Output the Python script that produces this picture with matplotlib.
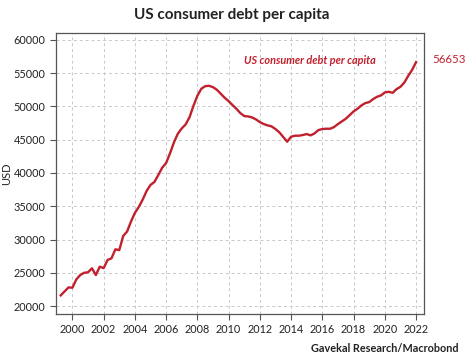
import numpy as np
import matplotlib.pyplot as plt

# quarterly US consumer debt per capita, USD
debt = [
    21600, 22200, 22800,
    22750, 24000, 24660, 25000,
    25070, 25670, 24660, 25910,
    25700, 26920, 27170, 28530,
    28400, 30530, 31200, 32700,
    34000, 34900, 36000, 37300,
    38200, 38650, 39700, 40800,
    41500, 42970, 44600, 45900,
    46700, 47300, 48400, 50100,
    51600, 52650, 53050, 53100,
    52900, 52500, 51900, 51300,
    50800, 50200, 49650, 49000,
    48550, 48500, 48350, 48050,
    47650, 47350, 47150, 47000,
    46600, 46100, 45400, 44700,
    45450, 45600, 45600, 45700,
    45850, 45650, 45950, 46450,
    46600, 46650, 46650, 46900,
    47350, 47750, 48150, 48700,
    49250, 49650, 50150, 50500,
    50650, 51100, 51450, 51650,
    52100, 52200, 52050, 52600,
    52950, 53600, 54600, 55500,
    56653,
]
years = 1999.25 + 0.25 * np.arange(len(debt))
xticks = list(range(2000, 2023, 2))
yticks = list(range(20000, 60001, 5000))

red = '#C1202D'
plt.rcParams['font.family'] = ['Lato', 'DejaVu Sans']

fig = plt.figure(figsize=(4.68, 3.59), dpi=100)
ax = fig.add_axes([0.1197, 0.1253, 0.786, 0.783])

ax.plot(years, debt, color=red, lw=1.7, solid_joinstyle='round')

ax.set_xlim(1998.95, 2022.5)
ax.set_ylim(18800, 61050)
ax.set_xticks(xticks)
ax.set_yticks(yticks)
ax.tick_params(labelsize=7.8, color='#555555', length=4, labelcolor='#222222')
ax.grid(True, ls=(0, (3, 3)), color='#c8c8c8', lw=0.7)
for s in ax.spines.values():
    s.set_color('#555555')
    s.set_linewidth(0.9)
ax.set_ylabel('USD', fontsize=8, color='#222222')
ax.yaxis.set_label_coords(-0.118, 0.5)

fig.text(0.496, 0.958, 'US consumer debt per capita', ha='center', va='center',
         fontsize=11, fontweight='bold', color='#222222')
ax.text(2019.44, 56950, 'US consumer debt per capita', ha='right', va='center',
        fontsize=7.8, fontstyle='italic', fontweight='bold', color=red)
fig.text(0.923, 0.833, '56653', ha='left', va='center', fontsize=8.3, color=red)
fig.text(0.979, 0.03, 'Gavekal Research/Macrobond', ha='right', va='center',
         fontsize=7.8, fontweight='bold', color='#222222')

fig.savefig('out.png', dpi=100)
